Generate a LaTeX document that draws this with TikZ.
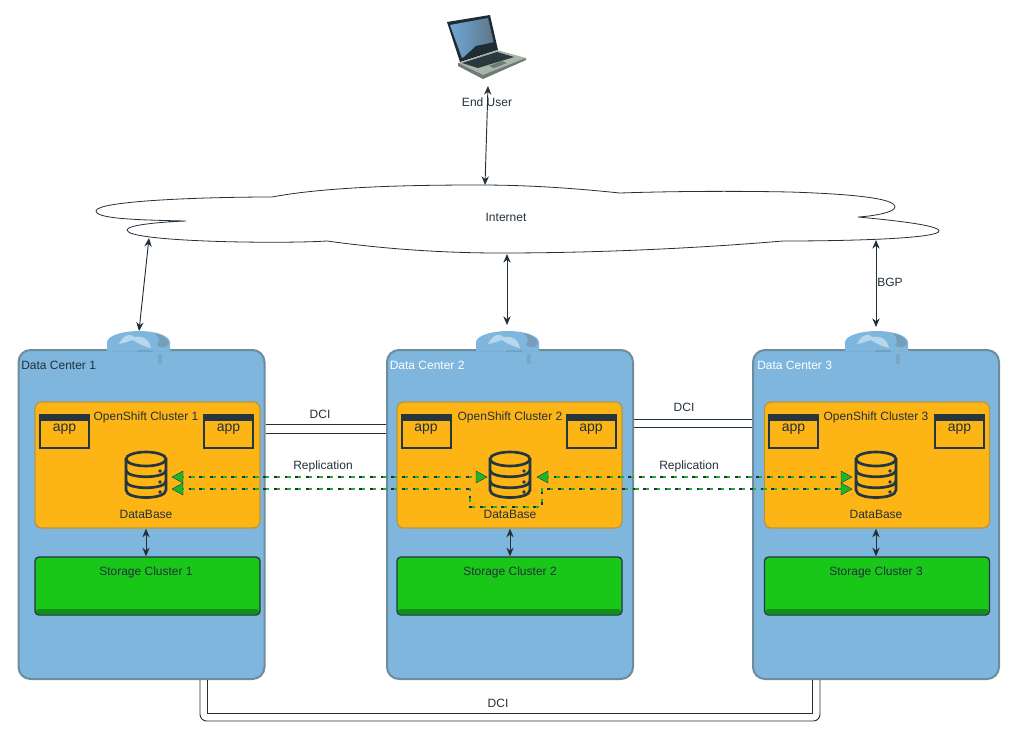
\documentclass[tikz,border=0pt]{standalone}
\usepackage{fontspec}
\setmainfont{Liberation Sans}
\usetikzlibrary{arrows.meta,calc,patterns}
\definecolor{dcblue}{HTML}{7FB6DD}
\definecolor{dcedge}{HTML}{6F8C9C}
\definecolor{orangefill}{HTML}{FDB515}
\definecolor{orangeedge}{HTML}{B9963F}
\definecolor{greenfill}{HTML}{19C719}
\definecolor{greenband}{HTML}{127F1C}
\definecolor{ink}{HTML}{23303A}
\definecolor{navy}{HTML}{24363F}
\definecolor{repl}{HTML}{1FB52A}
\definecolor{lapblue}{HTML}{6FA6D6}
\definecolor{lapgrey}{HTML}{5F7786}
\definecolor{lapdark}{HTML}{1F2C33}
\definecolor{lapbase}{HTML}{A9B5A8}
\definecolor{lapmid}{HTML}{6C7C78}
\tikzset{
  x=0.75pt,y=-0.75pt,
  every node/.style={font=\fontsize{9}{11}\selectfont,text=ink,inner sep=0pt},
  bx/.style 2 args={rectangle,minimum width=#1*0.75pt,minimum height=#2*0.75pt},
  dcbox/.style={bx={246}{329},draw=dcedge,line width=1.5pt,fill=dcblue,rounded corners=9pt},
  osbox/.style={bx={225}{126},draw=orangeedge,line width=1pt,fill=orangefill,rounded corners=5pt},
  stbox/.style={bx={225}{58},draw=navy,line width=1pt,fill=greenfill,rounded corners=3pt},
  appbox/.style={bx={49}{33},draw=navy,line width=1.5pt,fill=orangefill},
  link/.style={draw=ink,line width=0.7pt,{Stealth[length=6.5pt,width=5.5pt]}-{Stealth[length=6.5pt,width=5.5pt]}},
  dci/.style={draw=ink,line width=0.7pt},
  replg/.style={draw=repl,line width=1.5pt,dash pattern=on 4.5pt off 3.5pt},
  repld/.style={draw=ink,line width=0.8pt,dash pattern=on 2pt off 6pt},
  tipg/.style={fill=repl,draw=ink,line width=0.3pt},
  dbline/.style={draw=navy,line width=2pt},
}
\newcommand{\dbicon}[2]{%
  \begin{scope}[shift={(#1,#2)}]
    \draw[dbline,fill=orangefill] (-20,-16) -- (-20,15) .. controls (-20,25) and (20,25) .. (20,15) -- (20,-16);
    \draw[dbline,fill=orangefill] (0,-16) ellipse [x radius=20,y radius=7];
    \draw[dbline] (-20,-5) .. controls (-20,4) and (20,4) .. (20,-5);
    \draw[dbline] (-20,6) .. controls (-20,15) and (20,15) .. (20,6);
    \fill[navy] (14,-4) circle (1.4pt) (14,7) circle (1.4pt) (14,17) circle (1.4pt);
  \end{scope}}
\newcommand{\routericon}[1]{%
  \begin{scope}[shift={(#1,0)}]
    \fill[dcblue] (-32,351) -- (-32,342) .. controls (-31,335) and (-15,331) .. (0,331)
      .. controls (15,331) and (30,335) .. (31,342) -- (31,351) -- cycle;
    \fill[white,opacity=.45] (-20,344) .. controls (-15,334) and (-8,333) .. (-5,337)
      .. controls (3,336) and (10,338) .. (12,348) .. controls (4,346) and (-2,343) .. (-6,340)
      .. controls (-10,341) and (-14,343) .. (-20,344) -- cycle;
    \fill[dcedge,opacity=.55] (16,333) .. controls (25,335) and (30,340) .. (30,344)
      .. controls (27,348) and (22,349) .. (18,345) .. controls (21,342) and (20,337) .. (16,333) -- cycle;
    \fill[dcedge,opacity=.45] (-2,350) rectangle (14,351.5);
    \fill[dcedge,opacity=.35] (19,354) rectangle (23,364);
  \end{scope}}
\begin{document}
\begin{tikzpicture}
\useasboundingbox (0,0) rectangle (1020,736);
% laptop
\fill[lapdark] (447,22) -- (490,15) -- (498,50) -- (460,62) -- cycle;
\shade[left color=lapblue,right color=lapgrey] (450,25) -- (488,18) -- (494,44) -- (462,58) -- cycle;
\fill[lapdark] (464,57) -- (476,46) -- (495,42) -- (497,50) -- (461,61) -- cycle;
\fill[lapbase] (458,63) -- (497,50) -- (526,58) -- (483,79) -- cycle;
\fill[lapdark!85!lapmid] (462,63) -- (497,52) -- (514,57) -- (478,68) -- cycle;
\fill[lapmid] (489,66) -- (502,61) -- (507,63) -- (494,68) -- cycle;
\fill[lapmid] (458,63) -- (483,75) -- (526,58) -- (526,60) -- (483,79) -- (458,66) -- cycle;
\node (user) at (487,102) {End User};
\coordinate (userport) at (488,86);
% cloud
\draw[draw=ink,line width=0.6pt,fill=white]
  (272,197) .. controls (330,186) and (420,185) .. (480,185)
  .. controls (540,185) and (590,190) .. (620,193)
  .. controls (680,191) and (740,191) .. (790,192)
  .. controls (850,194) and (895,198) .. (895,207)
  .. controls (895,212) and (875,216) .. (858,217)
  .. controls (890,220) and (939,225) .. (939,231)
  .. controls (939,238) and (860,241) .. (783,241)
  .. controls (700,248) and (600,253) .. (500,253)
  .. controls (430,253) and (370,247) .. (327,241)
  .. controls (280,244) and (127,242) .. (127,230)
  .. controls (127,225) and (160,222) .. (186,221)
  .. controls (140,220) and (96,219) .. (96,211)
  .. controls (96,201) and (200,197) .. (272,197) -- cycle;
\node (internet) at (506,217) {Internet};
\coordinate (cloudu) at (485,185);
\coordinate (cloud1) at (149,238);
\coordinate (cloud2) at (507,254);
\coordinate (cloud3) at (876,240);
\coordinate (r1) at (139,331);
\coordinate (r2) at (507,325);
\coordinate (r3) at (876,327);
% data centres
\foreach \n/\dx/\ox/\cx/\ax/\bx/\lc/\lx in {1/141.5/147.5/146/64.5/228.5/ink/21,2/510/509.5/510/426/591/white/389.5,3/876/877/876/793.5/959.5/white/757}{
  \node[dcbox] (dc\n) at (\dx,514.5) {};
  \node[osbox] (os\n) at (\ox,465) {};
  \node[stbox] (st\n) at (\ox,586) {};
  \fill[greenband,opacity=.8,rounded corners=2pt] (\ox-111.5,609) rectangle (\ox+111.5,614.5);
  \node[anchor=west,text=\lc] (dclabel\n) at (\lx,365) {Data Center \n};
  \node (oslabel\n) at (\cx,417) {OpenShift Cluster \n};
  \node (stlabel\n) at (\cx,572) {Storage Cluster \n};
  \node (dblabel\n) at (\cx,514.5) {DataBase};
  \node[appbox] (appa\n) at (\ax,431) {};
  \node[appbox] (appb\n) at (\bx,431) {};
  \fill[navy] (\ax-24.5,414.5) rectangle (\ax+24.5,420.5);
  \fill[navy] (\bx-24.5,414.5) rectangle (\bx+24.5,420.5);
  \node (appal\n) at (\ax,429) {\fontsize{10.5}{12}\selectfont app};
  \node (appbl\n) at (\bx,429) {\fontsize{10.5}{12}\selectfont app};
  \dbicon{\cx}{475}
  \coordinate (db\n) at (\cx,475);
  \draw[link] (os\n.south -| \cx,0) -- (st\n.north -| \cx,0);
}
\routericon{139}
\routericon{508}
\routericon{877}
% internet links
\draw[link] (cloudu) -- (userport);
\draw[link] (cloud1) -- (r1);
\draw[link] (cloud2) -- (r2);
\draw[link] (cloud3) -- (r3);
\node (bgp) at (890,282) {BGP};
% DCI
\draw[dci] (dc1.east |- 0,424) -- (dc2.west |- 0,424);
\draw[dci] (dc1.east |- 0,433) -- (dc2.west |- 0,433);
\node (dcia) at (320,414) {DCI};
\draw[dci] (dc2.east |- 0,419) -- (dc3.west |- 0,419);
\draw[dci] (dc2.east |- 0,427) -- (dc3.west |- 0,427);
\node (dcib) at (684,407) {DCI};
\draw[dci,rounded corners=5pt] (200,680) -- (200,721) -- (820,721) -- (820,680);
\draw[dci] (207,680) -- (207,713) -- (812,713) -- (812,680);
\node (dcic) at (498,703) {DCI};
% replication
\node (repa) at (323,466) {Replication};
\node (repb) at (689,466) {Replication};
\coordinate (a1) at (178,477); \coordinate (a2) at (481,477);
\coordinate (b1) at (178,489); \coordinate (b2) at (470,489);
\coordinate (c1) at (470,507); \coordinate (c2) at (542,507); \coordinate (c3) at (542,489);
\coordinate (d1) at (543,477); \coordinate (d2) at (846,477);
\coordinate (e2) at (846,489);
\foreach \s in {replg,repld}{
  \draw[\s] (a1) -- (a2);
  \draw[\s] (b1) -- (b2) -- (c1) -- (c2) -- (c3) -- (e2);
  \draw[\s] (d1) -- (d2);
}
\foreach \x/\y/\d in {172/477/1,172/489/1,487/477/-1,537/477/1,852/477/-1,852/489/-1}{
  \draw[tipg] (\x,\y) -- ++(\d*11,-6) -- ++(0,12) -- cycle;
}
\end{tikzpicture}
\end{document}
